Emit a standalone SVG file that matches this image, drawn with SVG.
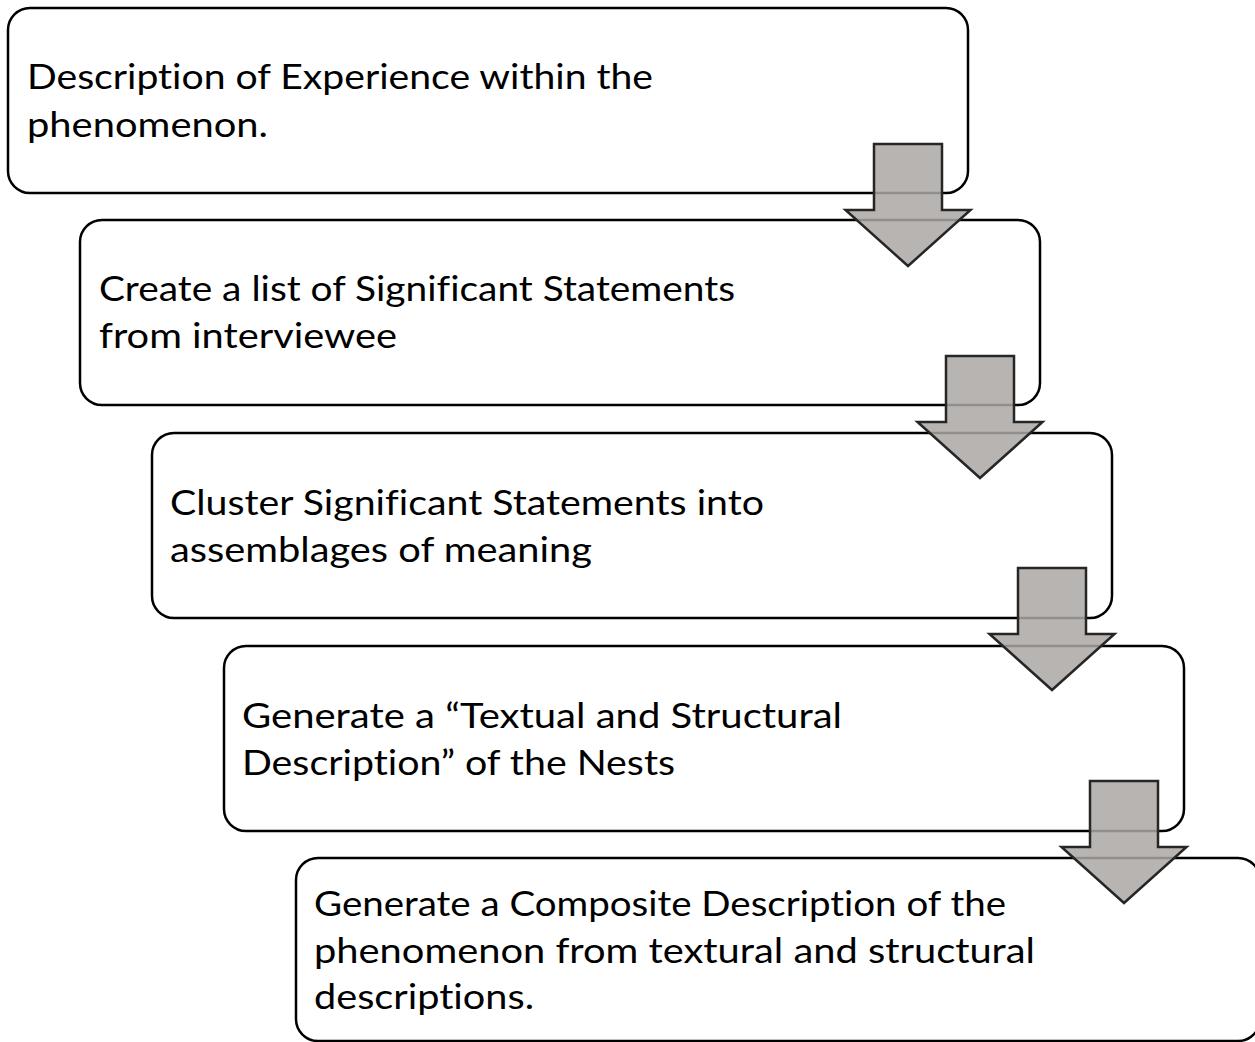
<svg xmlns="http://www.w3.org/2000/svg" width="1255" height="1042" viewBox="0 0 1255 1042">
<style>
.box{fill:#ffffff;stroke:#000000;stroke-width:2.5}
.t{font-family:Lato,"Open Sans","Liberation Sans",sans-serif;font-size:35px;fill:#000000;font-variant-ligatures:none}
.arr{fill:#ABA7A5;fill-opacity:0.85;stroke:#262626;stroke-width:2.5;stroke-linejoin:miter}
</style>
<rect width="1255" height="1042" fill="#ffffff"/>
<g id="node1">
<rect class="box" x="8" y="8" width="960" height="185" rx="22"/>
<text class="t" x="27" y="89" textLength="626" lengthAdjust="spacingAndGlyphs">Description of Experience within the</text>
<text class="t" x="27" y="137" textLength="241" lengthAdjust="spacingAndGlyphs">phenomenon.</text>
</g>
<g id="node2">
<rect class="box" x="80" y="220" width="960" height="185" rx="22"/>
<text class="t" x="99" y="301" textLength="636" lengthAdjust="spacingAndGlyphs">Create a list of Significant Statements</text>
<text class="t" x="99" y="348" textLength="298" lengthAdjust="spacingAndGlyphs">from interviewee</text>
</g>
<g id="node3">
<rect class="box" x="152" y="433" width="960" height="185" rx="22"/>
<text class="t" x="170" y="515" textLength="594" lengthAdjust="spacingAndGlyphs">Cluster Significant Statements into</text>
<text class="t" x="170" y="562" textLength="422" lengthAdjust="spacingAndGlyphs">assemblages of meaning</text>
</g>
<g id="node4">
<rect class="box" x="224" y="646" width="960" height="185" rx="22"/>
<text class="t" x="242" y="728" textLength="600" lengthAdjust="spacingAndGlyphs">Generate a “Textual and Structural</text>
<text class="t" x="242" y="775" textLength="433" lengthAdjust="spacingAndGlyphs">Description” of the Nests</text>
</g>
<g id="node5">
<rect class="box" x="296" y="858" width="964" height="183" rx="22"/>
<text class="t" x="314" y="916" textLength="692" lengthAdjust="spacingAndGlyphs">Generate a Composite Description of the</text>
<text class="t" x="314" y="963" textLength="721" lengthAdjust="spacingAndGlyphs">phenomenon from textural and structural</text>
<text class="t" x="314" y="1009" textLength="220" lengthAdjust="spacingAndGlyphs">descriptions.</text>
</g>
<g id="connectors">
<polygon class="arr" points="874,144 942,144 942,210 970.5,210 908,266 845.5,210 874,210"/>
<polygon class="arr" points="946,356 1014,356 1014,422 1042.5,422 980,478 917.5,422 946,422"/>
<polygon class="arr" points="1018,568 1086,568 1086,634 1114.5,634 1052,690 989.5,634 1018,634"/>
<polygon class="arr" points="1090,781 1158,781 1158,847 1186.5,847 1124,903 1061.5,847 1090,847"/>
</g>
</svg>
